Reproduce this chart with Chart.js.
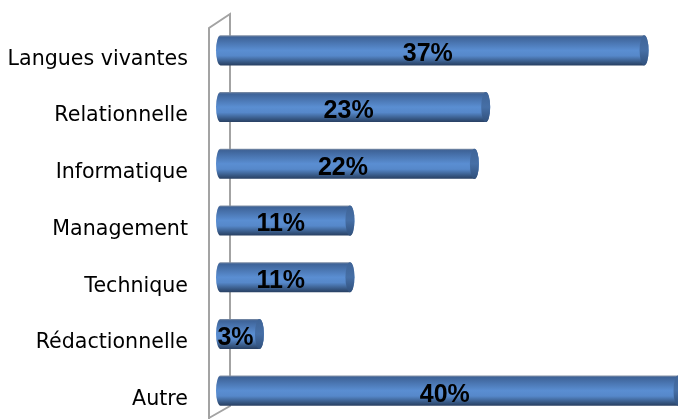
<!DOCTYPE html>
<html>
<head>
<meta charset="utf-8">
<script src="https://cdn.jsdelivr.net/npm/chart.js@4.4.0/dist/chart.umd.min.js"></script>
<style>
  html, body { margin: 0; padding: 0; background: #fff; }
  #wrap { width: 678px; height: 419px; }
</style>
</head>
<body>
<div id="wrap"><canvas id="chart" width="678" height="419"></canvas></div>
<script>
// data
const categories = ['Langues vivantes', 'Relationnelle', 'Informatique', 'Management', 'Technique', 'Rédactionnelle', 'Autre'];
const percents = [37, 23, 22, 11, 11, 3, 40];

const LABEL_FONT = '"DejaVu Sans", sans-serif';
const VALUE_FONT = '"Liberation Sans", Arial, sans-serif';

// draws the back wall and the cylinders over the (transparent) bars
const cylinderPlugin = {
  id: 'cylinders',
  beforeDatasetsDraw(chart) {
    const ctx = chart.ctx;
    const area = chart.chartArea;
    const back = area.left;
    const front = back - 21;
    ctx.save();
    ctx.strokeStyle = '#a3a3a3';
    ctx.lineWidth = 2;
    ctx.beginPath();
    ctx.moveTo(front, 419);
    ctx.lineTo(front, 28);
    ctx.lineTo(back, 14);
    ctx.lineTo(back, 406);
    ctx.lineTo(front, 418);
    ctx.stroke();
    ctx.restore();
  },
  afterDatasetsDraw(chart) {
    const ctx = chart.ctx;
    const meta = chart.getDatasetMeta(0);
    meta.data.forEach((el, i) => {
      const h = el.height;
      const top = el.y - h / 2;
      const bottom = el.y + h / 2;
      const left = el.base - 14;
      const right = el.x;
      const rx = 4.5;
      const ry = h / 2;

      const grad = ctx.createLinearGradient(0, top, 0, bottom);
      grad.addColorStop(0, '#8592a6');
      grad.addColorStop(0.06, '#3e6398');
      grad.addColorStop(0.5, '#5a8ed2');
      grad.addColorStop(0.68, '#5688ca');
      grad.addColorStop(0.9, '#355580');
      grad.addColorStop(1, '#283f62');

      ctx.save();
      ctx.beginPath();
      ctx.moveTo(left + rx, top);
      ctx.lineTo(right - rx, top);
      ctx.ellipse(right - rx, el.y, rx, ry, 0, -Math.PI / 2, Math.PI / 2);
      ctx.lineTo(left + rx, bottom);
      ctx.ellipse(left + rx, el.y, rx, ry, 0, Math.PI / 2, Math.PI * 1.5);
      ctx.closePath();
      ctx.fillStyle = grad;
      ctx.fill();

      // end face
      const face = ctx.createLinearGradient(0, top, 0, bottom);
      face.addColorStop(0, '#3f6497');
      face.addColorStop(0.5, '#466fa6');
      face.addColorStop(1, '#30507c');
      ctx.beginPath();
      ctx.ellipse(right - rx, el.y, rx, ry, 0, 0, Math.PI * 2);
      ctx.fillStyle = face;
      ctx.fill();

      // value label
      ctx.fillStyle = '#000';
      ctx.font = 'bold 25px ' + VALUE_FONT;
      ctx.textAlign = 'center';
      ctx.textBaseline = 'middle';
      const cx = (left + right - 2 * rx) / 2;
      ctx.fillText(percents[i] + '%', cx, el.y + 4);
      ctx.restore();
    });
  }
};

new Chart(document.getElementById('chart'), {
  type: 'bar',
  data: {
    labels: categories,
    datasets: [{
      data: percents,
      backgroundColor: 'rgba(0,0,0,0)',
      barPercentage: 0.53,
      categoryPercentage: 1
    }]
  },
  options: {
    indexAxis: 'y',
    responsive: false,
    animation: false,
    layout: { padding: { top: 22, bottom: 0, left: 0, right: 0 } },
    scales: {
      x: {
        display: false,
        min: 0,
        max: 39.6
      },
      y: {
        grid: { display: false, drawTicks: true, tickLength: 42 },
        border: { display: false },
        ticks: {
          color: '#000',
          padding: 0,
          labelOffset: 9,
          font: { family: LABEL_FONT, size: 20.6 }
        },
        afterFit(scale) {
          scale.width = 230;
          scale.paddingTop = 0;
          scale.paddingBottom = 0;
        }
      }
    },
    plugins: {
      legend: { display: false },
      tooltip: { enabled: false }
    }
  },
  plugins: [cylinderPlugin]
});
</script>
</body>
</html>
